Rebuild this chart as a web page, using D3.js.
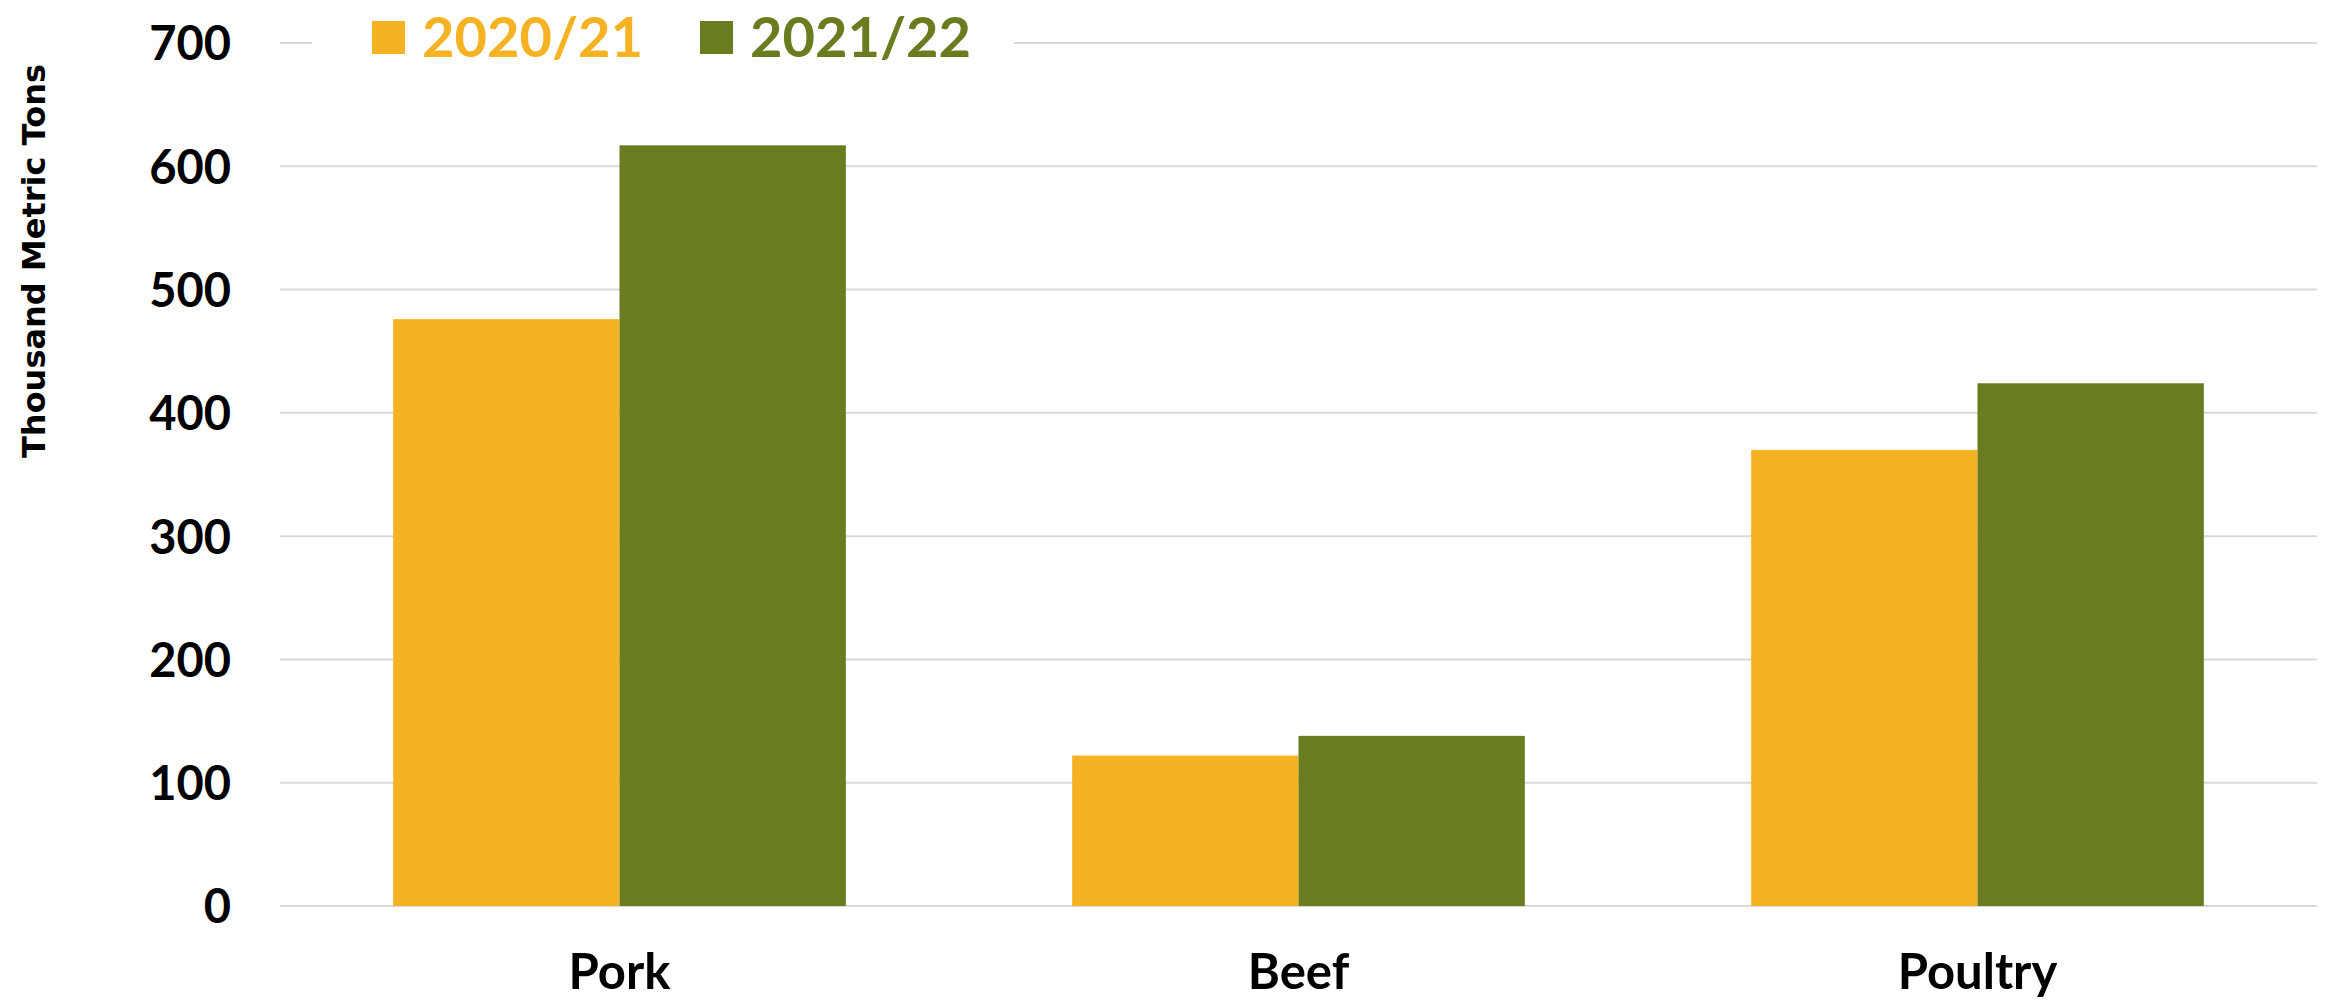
<!DOCTYPE html>
<html>
<head>
<meta charset="utf-8">
<script src="https://cdn.jsdelivr.net/npm/d3@7"></script>
<style>
  html, body { margin: 0; padding: 0; background: #fff; }
  svg { display: block; font-family: Lato, "Noto Sans", sans-serif; font-weight: 700; }
</style>
</head>
<body>
<svg id="chart" width="2336" height="1000"></svg>
<script>
// Meat production by type, thousand metric tons
const categories = ["Pork", "Beef", "Poultry"];
const seriesNames = ["2020/21", "2021/22"];
const values2020 = [476, 122, 370];
const values2021 = [617, 138, 424];
const yTicks = [0, 100, 200, 300, 400, 500, 600, 700];
const colors = ["#F5B223", "#697C1F"];

const svg = d3.select("#chart");
const margin = { left: 280, right: 19, top: 43, bottom: 94 };
const W = 2336, H = 1000;

const x0 = d3.scaleBand()
  .domain(categories)
  .range([margin.left, W - margin.right])
  .paddingInner(1 / 3)
  .paddingOuter(1 / 6);

const x1 = d3.scaleBand()
  .domain(seriesNames)
  .range([0, x0.bandwidth()]);

const y = d3.scaleLinear()
  .domain([0, 700])
  .range([H - margin.bottom, margin.top]);

// gridlines
svg.append("g")
  .selectAll("line")
  .data(yTicks)
  .join("line")
  .attr("x1", margin.left)
  .attr("x2", W - margin.right)
  .attr("y1", d => y(d))
  .attr("y2", d => y(d))
  .attr("stroke", "#D9D9D9")
  .attr("stroke-width", 2);

// y tick labels
const yAxis = d3.axisLeft(y).tickValues(yTicks).tickSize(0).tickPadding(0);
const gy = svg.append("g")
  .attr("transform", `translate(231,0)`)
  .call(yAxis);
gy.select(".domain").remove();
gy.selectAll("text")
  .attr("font-size", 47)
  .attr("font-family", "Lato, sans-serif")
  .attr("font-weight", 700)
  .attr("fill", "#000")
  .attr("dy", "0.36em");

// bars
const rows = categories.map((c, i) => ({ cat: c, vals: [values2020[i], values2021[i]] }));
const groups = svg.append("g")
  .selectAll("g")
  .data(rows)
  .join("g")
  .attr("transform", d => `translate(${x0(d.cat)},0)`);

groups.selectAll("rect")
  .data(d => d.vals.map((v, j) => ({ key: seriesNames[j], v, j })))
  .join("rect")
  .attr("x", d => x1(d.key))
  .attr("width", x1.bandwidth())
  .attr("y", d => y(d.v))
  .attr("height", d => y(0) - y(d.v))
  .attr("fill", d => colors[d.j]);

// category labels
const xAxis = d3.axisBottom(x0).tickSize(0).tickPadding(0);
const gx = svg.append("g")
  .attr("transform", `translate(0,${y(0)})`)
  .call(xAxis);
gx.select(".domain").remove();
gx.selectAll("text")
  .attr("font-size", 49)
  .attr("font-family", "Lato, sans-serif")
  .attr("font-weight", 700)
  .attr("fill", "#000")
  .attr("dy", 0)
  .attr("y", 83);

// y axis title
svg.append("text")
  .attr("transform", `translate(45,${261}) rotate(-90)`)
  .attr("text-anchor", "middle")
  .attr("font-family", "'DejaVu Sans', sans-serif")
  .attr("font-weight", 700)
  .attr("font-size", 32)
  .attr("fill", "#000")
  .text("Thousand Metric Tons");

// legend
const legend = svg.append("g");
legend.append("rect")
  .attr("x", 312).attr("y", 20).attr("width", 702).attr("height", 50)
  .attr("fill", "#fff");
const legX = [372, 700];
seriesNames.forEach((name, i) => {
  legend.append("rect")
    .attr("x", legX[i]).attr("y", 21).attr("width", 33).attr("height", 33)
    .attr("fill", colors[i]);
  legend.append("text")
    .attr("x", legX[i] + 50).attr("y", 57)
    .attr("font-size", 56)
    .attr("fill", colors[i])
    .text(name);
});
</script>
</body>
</html>
